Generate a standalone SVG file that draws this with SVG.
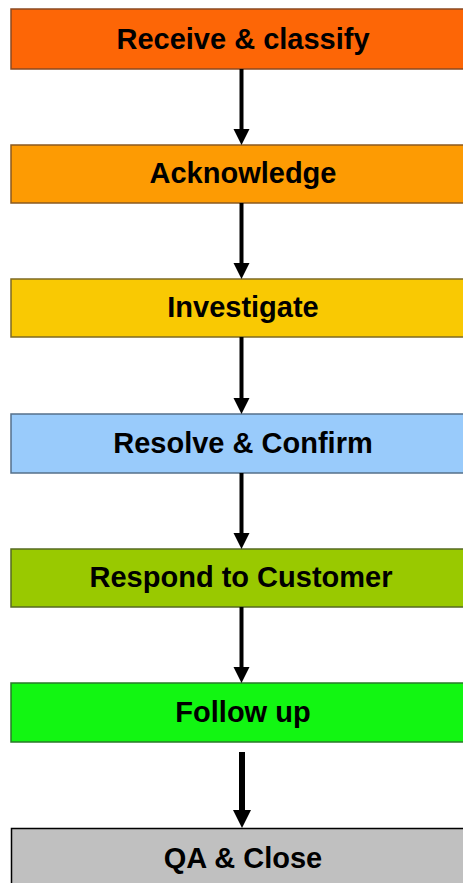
<svg xmlns="http://www.w3.org/2000/svg" width="463" height="883" viewBox="0 0 463 883">
  <style>
    .box { stroke-width: 1.5; }
    .lbl { font-family: "Liberation Sans", Arial, sans-serif; font-weight: bold; font-size: 29px; fill: #000; text-anchor: middle; }
    .shaft { stroke: #000; stroke-width: 4; fill: none; }
    .head { fill: #000; }
  </style>
  <rect width="463" height="883" fill="#ffffff"/>

  <g id="receive">
    <rect class="box" x="11" y="9" width="460" height="60" fill="#fd6606" stroke="#8a4a22"/>
    <text class="lbl" x="243" y="49">Receive &amp; classify</text>
  </g>
  <g id="acknowledge">
    <rect class="box" x="11" y="145" width="460" height="58" fill="#fd9b03" stroke="#8a5a20"/>
    <text class="lbl" x="243" y="183">Acknowledge</text>
  </g>
  <g id="investigate">
    <rect class="box" x="11" y="279" width="460" height="58" fill="#f9c903" stroke="#7d6a25"/>
    <text class="lbl" x="243" y="317">Investigate</text>
  </g>
  <g id="resolve">
    <rect class="box" x="11" y="414" width="460" height="59" fill="#99cbfb" stroke="#55708a"/>
    <text class="lbl" x="243" y="453">Resolve &amp; Confirm</text>
  </g>
  <g id="respond">
    <rect class="box" x="11" y="549" width="460" height="58" fill="#99c900" stroke="#566a22"/>
    <text class="lbl" x="241" y="587">Respond to Customer</text>
  </g>
  <g id="followup">
    <rect class="box" x="11" y="683" width="460" height="59" fill="#12f612" stroke="#2a7a2a"/>
    <text class="lbl" x="243" y="722">Follow up</text>
  </g>
  <g id="qaclose">
    <rect x="11.5" y="828.5" width="460" height="70" fill="#c0c0c0" stroke="#000" stroke-width="1.5"/>
    <text class="lbl" x="243" y="868">QA &amp; Close</text>
  </g>

  <g id="connectors">
    <line class="shaft" x1="241.5" y1="69" x2="241.5" y2="130"/>
    <polygon class="head" points="233.5,129 249.5,129 241.5,145"/>
    <line class="shaft" x1="241.5" y1="203" x2="241.5" y2="264"/>
    <polygon class="head" points="233.5,263 249.5,263 241.5,279"/>
    <line class="shaft" x1="241.5" y1="337" x2="241.5" y2="399"/>
    <polygon class="head" points="233.5,398 249.5,398 241.5,414"/>
    <line class="shaft" x1="241.5" y1="473" x2="241.5" y2="534"/>
    <polygon class="head" points="233.5,533 249.5,533 241.5,549"/>
    <line class="shaft" x1="241.5" y1="607" x2="241.5" y2="668"/>
    <polygon class="head" points="233.5,667 249.5,667 241.5,683"/>
    <line x1="242" y1="752" x2="242" y2="812" stroke="#000" stroke-width="6"/>
    <polygon class="head" points="233,810 251,810 242,828"/>
  </g>
</svg>
